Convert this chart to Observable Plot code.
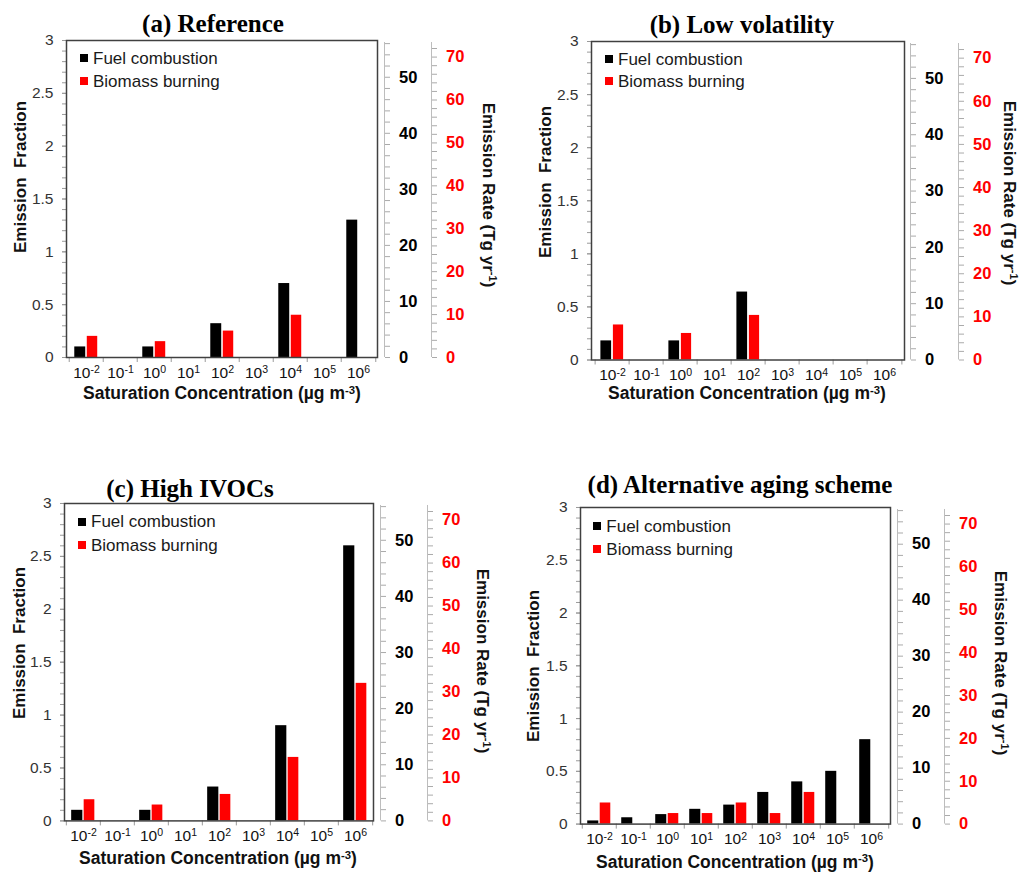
<!DOCTYPE html>
<html><head><meta charset="utf-8">
<script src="https://cdn.jsdelivr.net/npm/d3@7"></script>
<script src="https://cdn.jsdelivr.net/npm/@observablehq/plot@0.6"></script>
<style>
html,body{margin:0;padding:0;background:#fff;}
#page{position:relative;width:1019px;height:873px;overflow:hidden;background:#fff;font-family:"Liberation Sans",Arial,sans-serif;}
.abs{position:absolute;white-space:nowrap;line-height:1;}
.sup{font-size:0.65em;position:relative;top:-0.5em;}
#page svg{position:absolute;overflow:visible;max-width:none;}
</style></head><body><div id="page"></div>
<script>
// ---- data ----
const categories = ["10\u207B\u00B2","10\u207B\u00B9","10\u2070","10\u00B9","10\u00B2","10\u00B3","10\u2074","10\u2075","10\u2076"];
const fuelA    = [0.10, 0, 0.10, 0, 0.32, 0, 0.70, 0, 1.30];
const biomassA = [0.20, 0, 0.15, 0, 0.25, 0, 0.40, 0, 0];
const fuelB    = [0.18, 0, 0.18, 0, 0.64, 0, 0, 0, 0];
const biomassB = [0.33, 0, 0.25, 0, 0.42, 0, 0, 0, 0];
const fuelC    = [0.10, 0, 0.10, 0, 0.32, 0, 0.90, 0, 2.60];
const biomassC = [0.20, 0, 0.15, 0, 0.25, 0, 0.60, 0, 1.30];
const fuelD    = [0.03, 0.06, 0.09, 0.14, 0.18, 0.30, 0.40, 0.50, 0.80];
const biomassD = [0.20, 0, 0.10, 0.10, 0.20, 0.10, 0.30, 0, 0];
const fractionTicks = [0, 0.5, 1, 1.5, 2, 2.5, 3];
const fractionMinorTicks = d3.range(0, 31).map(i => i / 10);
const fuelRateTicks = [0, 10, 20, 30, 40, 50];
const fuelRateMinorTicks = d3.range(0, 57, 2);
const fuelRateMax = 56.2;
const biomassRateTicks = [0, 10, 20, 30, 40, 50, 60, 70];
const biomassRateMinorTicks = d3.range(0, 74, 2);
const biomassRateMax = 73.4;
const seriesNames = ["Fuel combustion", "Biomass burning"];
const seriesColors = ["#000000", "#ff0000"];
const panelTitles = ["(a) Reference", "(b) Low volatility", "(c) High IVOCs", "(d) Alternative aging scheme"];
const yTitle = "Emission\u00A0\u00A0Fraction";
const xTitle = "Saturation Concentration (\u00B5g m\u207B\u00B3)";
const rateTitle = "Emission Rate (Tg yr\u207B\u00B9)";

// ---- layout (pixel positions of each panel) ----
const panels = [
  {title: panelTitles[0], fuel: fuelA, biomass: biomassA, L: 66, R: 377, T: 40, B: 357,
   titleX: 213, titleBase: 32, leftTitleX: 20, leftTitleY: 177, xTitleX: 222, xTitleBase: 400,
   blackAxisX: 384, redAxisX: 431, rightTitleX: 488, rightTitleY: 195, legendX: 80, legendY1: 58, legendY2: 81},
  {title: panelTitles[1], fuel: fuelB, biomass: biomassB, L: 591, R: 904, T: 40.5, B: 359,
   titleX: 742, titleBase: 32.5, leftTitleX: 545, leftTitleY: 182, xTitleX: 747, xTitleBase: 400,
   blackAxisX: 910, redAxisX: 957.5, rightTitleX: 1009, rightTitleY: 193, legendX: 605, legendY1: 59, legendY2: 81},
  {title: panelTitles[2], fuel: fuelC, biomass: biomassC, L: 64, R: 373, T: 503.3, B: 820.7,
   titleX: 190, titleBase: 496.5, leftTitleX: 18.5, leftTitleY: 642.5, xTitleX: 218, xTitleBase: 865,
   blackAxisX: 379.5, redAxisX: 426.7, rightTitleX: 481.7, rightTitleY: 660.5, legendX: 78, legendY1: 521.7, legendY2: 545},
  {title: panelTitles[3], fuel: fuelD, biomass: biomassD, L: 580, R: 890, T: 506.7, B: 823.3,
   titleX: 740, titleBase: 493.3, leftTitleX: 533.3, leftTitleY: 666, xTitleX: 735, xTitleBase: 868.3,
   blackAxisX: 897.3, redAxisX: 944.3, rightTitleX: 1000, rightTitleY: 663, legendX: 593.3, legendY1: 526, legendY2: 549}
];

const SANS = '"Liberation Sans", Arial, Helvetica, sans-serif';
const SERIF = '"Liberation Serif", "Times New Roman", serif';
const page = document.getElementById("page");

// split a string into its normal part and its trailing Unicode superscript part
const SUPMAP = {"\u207B": "-", "\u2070": "0", "\u00B9": "1", "\u00B2": "2", "\u00B3": "3", "\u2074": "4", "\u2075": "5", "\u2076": "6"};
function splitSup(s) {
  let i = s.length;
  while (i > 0 && SUPMAP[s[i - 1]] !== undefined) i--;
  return [s.slice(0, i), Array.from(s.slice(i)).map(c => SUPMAP[c]).join("")];
}
function fillWithSup(el, txt) {
  const [main, sup] = splitSup(txt);
  el.textContent = main;
  if (sup) {
    const before = main.endsWith(")") ? main.slice(0, -1) : main;
    const tail = main.endsWith(")") ? ")" : "";
    el.textContent = before;
    const s = document.createElement("span");
    s.className = "sup";
    s.textContent = sup;
    el.appendChild(s);
    if (tail) el.appendChild(document.createTextNode(tail));
  }
}
// titles ending with ")" carry the superscript before the bracket
function titleWithSup(el, txt) {
  const closing = txt.endsWith(")");
  const core = closing ? txt.slice(0, -1) : txt;
  const [main, sup] = splitSup(core);
  el.textContent = main;
  if (sup) {
    const s = document.createElement("span");
    s.className = "sup";
    s.textContent = sup;
    el.appendChild(s);
  }
  if (closing) el.appendChild(document.createTextNode(")"));
}

function addText(txt, x, base, size, {weight = "normal", family = SANS, color = "#111", anchor = "middle"} = {}) {
  const d = document.createElement("div");
  d.className = "abs";
  titleWithSup(d, txt);
  d.style.fontSize = size + "px";
  d.style.fontWeight = weight;
  d.style.fontFamily = family;
  d.style.color = color;
  d.style.top = (base - 0.84 * size) + "px";
  d.style.left = x + "px";
  if (anchor === "middle") d.style.transform = "translateX(-50%)";
  page.appendChild(d);
  return d;
}
function addRotated(txt, cx, cy, size, deg) {
  const d = document.createElement("div");
  d.className = "abs";
  titleWithSup(d, txt);
  d.style.fontSize = size + "px";
  d.style.fontWeight = "bold";
  d.style.fontFamily = SANS;
  d.style.color = "#111";
  d.style.left = cx + "px";
  d.style.top = cy + "px";
  d.style.transform = `translate(-50%,-50%) rotate(${deg}deg)`;
  page.appendChild(d);
}
function addSquare(x, cy, color) {
  const d = document.createElement("div");
  d.style.position = "absolute";
  d.style.left = x + "px";
  d.style.top = (cy - 4) + "px";
  d.style.width = "8px";
  d.style.height = "8px";
  d.style.background = color;
  page.appendChild(d);
}

function mainPlot(p) {
  const padL = 70, padT = 10, padB = 30, padR = 2;
  const W = p.R - p.L, H = p.B - p.T;
  const bw = W / categories.length;
  const rows = arr => categories.map((c, i) => ({cat: c, value: arr[i]})).filter(d => d.value > 0);
  const svg = Plot.plot({
    width: W + padL + padR, height: H + padT + padB,
    marginLeft: padL, marginRight: padR, marginTop: padT, marginBottom: padB,
    style: {background: "transparent", fontFamily: SANS, overflow: "visible"},
    x: {type: "band", domain: categories, padding: 0},
    y: {domain: [0, 3]},
    marks: [
      Plot.barY(rows(p.fuel), {x: "cat", y: "value", fill: seriesColors[0], insetLeft: bw / 2 - 12, insetRight: bw / 2 + 0.5}),
      Plot.barY(rows(p.biomass), {x: "cat", y: "value", fill: seriesColors[1], insetLeft: bw / 2 + 0.5, insetRight: bw / 2 - 11.5}),
      Plot.axisY({anchor: "left", ticks: fractionMinorTicks, tickSize: 4, tickFormat: () => "", stroke: "#9a9a9a", label: null}),
      Plot.axisY({anchor: "left", ticks: fractionTicks, tickSize: 4, tickPadding: 9, tickFormat: d => String(d), stroke: "#9a9a9a", fill: "#333", fontSize: 15.5, label: null}),
      Plot.ruleX(categories, {dx: -bw / 2, insetTop: H, insetBottom: -5, stroke: "#9a9a9a"}),
      Plot.ruleX(categories.slice(-1), {dx: bw / 2, insetTop: H, insetBottom: -5, stroke: "#9a9a9a"}),
      Plot.axisX({anchor: "bottom", tickSize: 0, tickPadding: 9, fill: "#111", fontSize: 15.5, label: null}),
      Plot.frame({stroke: "#404040", strokeWidth: 1.5})
    ]
  });
  // render superscripts of the x tick labels (10^n) with a raised tspan
  svg.querySelectorAll('[aria-label="x-axis tick label"] text').forEach(t => {
    const [main, sup] = splitSup(t.textContent);
    if (!sup) return;
    t.textContent = main;
    const ts = document.createElementNS("http://www.w3.org/2000/svg", "tspan");
    ts.setAttribute("dy", "-0.42em");
    ts.setAttribute("font-size", "0.68em");
    ts.textContent = sup;
    t.appendChild(ts);
  });
  svg.style.left = (p.L - padL) + "px";
  svg.style.top = (p.T - padT) + "px";
  page.appendChild(svg);
}

function rightAxis(p, axisX, max, minor, labels, color) {
  const padT = 15, padB = 10;
  const top = p.T + 2;
  const H = p.B - top;
  const svg = Plot.plot({
    width: 70, height: H + padT + padB,
    marginLeft: 0, marginRight: 68, marginTop: padT, marginBottom: padB,
    style: {background: "transparent", fontFamily: SANS, overflow: "visible"},
    x: {domain: [0, 1], axis: null},
    y: {domain: [0, max]},
    marks: [
      Plot.ruleX([1], {stroke: "#bdbdbd"}),
      Plot.axisY({anchor: "right", ticks: minor, tickSize: 5, tickPadding: 9.5,
        tickFormat: d => labels.includes(d) ? String(d) : "",
        stroke: "#aaaaaa", fill: color, fontWeight: "bold", fontSize: 16.5, label: null})
    ]
  });
  svg.style.left = (axisX - 2) + "px";
  svg.style.top = (top - padT) + "px";
  page.appendChild(svg);
}

for (const p of panels) {
  mainPlot(p);
  rightAxis(p, p.blackAxisX, fuelRateMax, fuelRateMinorTicks, fuelRateTicks, "#000");
  rightAxis(p, p.redAxisX, biomassRateMax, biomassRateMinorTicks, biomassRateTicks, "#ff0000");
  addText(p.title, p.titleX, p.titleBase, 25, {weight: "bold", family: SERIF, color: "#000"});
  addRotated(yTitle, p.leftTitleX, p.leftTitleY, 17, -90);
  addRotated(rateTitle, p.rightTitleX, p.rightTitleY, 17, 90);
  addText(xTitle, p.xTitleX, p.xTitleBase, 17.5, {weight: "bold"});
  addSquare(p.legendX, p.legendY1, seriesColors[0]);
  addSquare(p.legendX, p.legendY2, seriesColors[1]);
  addText(seriesNames[0], p.legendX + 13, p.legendY1 + 5.8, 17, {anchor: "start", color: "#1a1a1a"});
  addText(seriesNames[1], p.legendX + 13, p.legendY2 + 5.8, 17, {anchor: "start", color: "#1a1a1a"});
}
</script></body></html>
